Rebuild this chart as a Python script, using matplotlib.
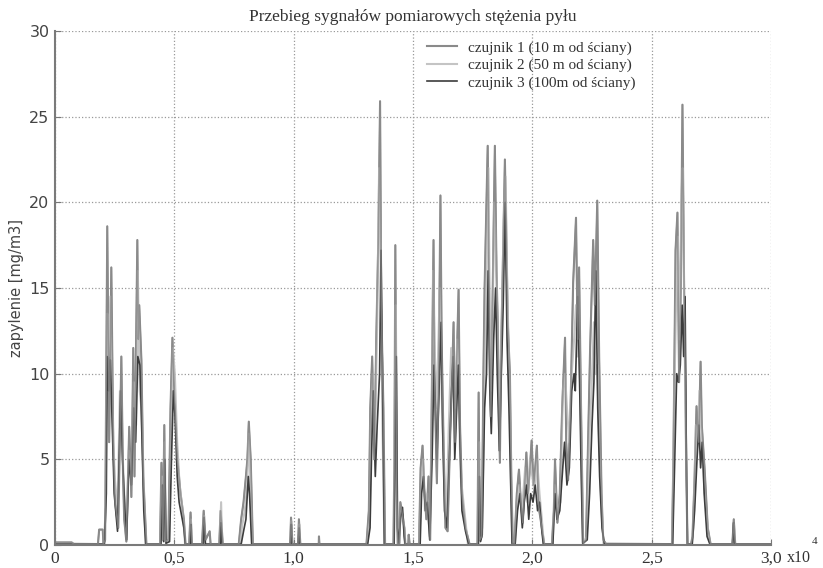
import numpy as np
import matplotlib.pyplot as plt

# x in units of 1e4 samples, y = dust concentration [mg/m3]
# czujnik 1 (10 m)
x1 = [0, 0.07, 0.08, 0.18, 0.185, 0.2, 0.203, 0.21, 0.219, 0.223, 0.227, 0.236, 0.244, 0.252, 0.265,
      0.278, 0.285, 0.29, 0.299, 0.311, 0.32, 0.328, 0.333, 0.345, 0.349, 0.353, 0.362, 0.37, 0.383,
      0.44, 0.446, 0.452, 0.458, 0.463, 0.475, 0.484, 0.492, 0.5, 0.513, 0.526, 0.54, 0.547,
      0.562, 0.568, 0.574, 0.616, 0.623, 0.631, 0.648, 0.652, 0.688, 0.694, 0.703,
      0.77, 0.78, 0.79, 0.8, 0.806, 0.812, 0.82, 0.829, 0.985, 0.989, 0.995, 1.018, 1.022, 1.028,
      1.105, 1.106, 1.108,
      1.305, 1.315, 1.321, 1.329, 1.338, 1.346, 1.355, 1.362, 1.367, 1.376, 1.383, 1.418, 1.422, 1.426,
      1.432, 1.436, 1.443, 1.447, 1.455, 1.464, 1.468, 1.48, 1.482, 1.486,
      1.525, 1.532, 1.54, 1.548, 1.556, 1.565, 1.572, 1.578, 1.586, 1.59, 1.596, 1.6, 1.607, 1.615,
      1.62, 1.628, 1.636, 1.645, 1.655, 1.662, 1.67, 1.676, 1.682, 1.691, 1.697, 1.705, 1.72, 1.737,
      1.77, 1.775, 1.78, 1.788, 1.795, 1.8, 1.813, 1.82, 1.826, 1.834, 1.843, 1.85, 1.855, 1.864,
      1.87, 1.876, 1.885, 1.89, 1.897, 1.906, 1.912, 1.918,
      1.925, 1.935, 1.944, 1.952, 1.96, 1.968, 1.975, 1.982, 1.99, 1.997, 2.005, 2.012, 2.019, 2.027,
      2.04, 2.05,
      2.082, 2.09, 2.095, 2.105, 2.115, 2.125, 2.137, 2.142, 2.15, 2.16, 2.171, 2.183, 2.19, 2.196,
      2.204, 2.213, 2.225, 2.232, 2.242, 2.255, 2.262, 2.272, 2.28, 2.29, 2.297, 2.31,
      2.585, 2.591, 2.6, 2.608, 2.615, 2.622, 2.629, 2.636, 2.645, 2.65, 2.665, 2.671, 2.68, 2.688,
      2.697, 2.705, 2.71, 2.722, 2.735, 2.747, 2.838, 2.844, 2.85, 3.0]
y1 = [0.15, 0.15, 0.05, 0.05, 0.9, 0.9, 0.05, 0.3, 18.6, 12, 6, 16.2, 6, 2.5, 1.0,
      11.0, 4, 1.5, 0.2, 6.9, 2.8, 11.5, 4, 17.8, 12, 14, 10.8, 4, 0.05,
      0.05, 4.8, 0.3, 7.0, 0.2, 0.3, 8, 12.1, 9, 5, 3, 1.5, 0.05,
      0.05, 1.9, 0.05, 0.05, 2.0, 0.3, 0.8, 0.05, 0.05, 2.0, 0.05,
      0.05, 1.5, 2.5, 4, 5, 7.2, 5, 0.05, 0.05, 1.6, 0.05, 0.05, 1.5, 0.05,
      0.05, 0.5, 0.05,
      0.05, 2, 8, 11, 5, 12, 18, 25.9, 14, 8, 0.05, 0.05, 5, 17.5,
      3, 0.05, 0.1, 2.5, 1.8, 1.0, 0.05, 0.05, 0.6, 0.05,
      0.05, 4.5, 5.8, 3, 1.5, 4, 0.3, 8, 17.8, 10, 6, 3.6, 9, 20.4,
      12, 6, 1, 0.8, 6, 9, 13.0, 6, 10, 14.9, 7, 3, 1, 0.05,
      0.05, 8.9, 0.3, 0.5, 10, 15, 23.3, 13, 7.5, 15, 23.3, 16, 13, 4.8,
      12, 16, 22.5, 18.8, 13, 10, 4, 0.1,
      0.05, 3, 4.4, 2.5, 1.3, 3.5, 5.4, 3, 4.5, 6.1, 3.5, 4.5, 5.8, 2.2,
      1, 0.05,
      0.05, 2, 5.0, 1.3, 3, 8, 12.1, 6, 3.8, 8, 15.3, 19.1, 12, 16.2,
      8.1, 0.1, 0.3, 5, 11.4, 17.8, 14, 20.1, 11.0, 3, 0.3, 0.05,
      0.05, 5, 17.2, 19.4, 9.5, 15, 25.7, 14.9, 5, 0.05, 0.05, 0.5, 4, 8.1,
      6, 10.7, 7, 4.4, 1, 0.05, 0.05, 1.5, 0.05, 0.05]

# czujnik 2 (50 m)
x2 = [0, 0.205, 0.212, 0.219, 0.224, 0.232, 0.24, 0.25, 0.262, 0.272, 0.28, 0.29, 0.3, 0.31, 0.32,
      0.33, 0.34, 0.347, 0.355, 0.362, 0.372, 0.38,
      0.442, 0.448, 0.452, 0.46, 0.465, 0.478, 0.486, 0.494, 0.502, 0.512, 0.522, 0.535, 0.545,
      0.565, 0.569, 0.573, 0.62, 0.625, 0.63, 0.69, 0.696, 0.7,
      0.775, 0.785, 0.795, 0.805, 0.812, 0.818, 0.826, 0.988, 0.99, 0.994, 1.02, 1.024, 1.027,
      1.308, 1.318, 1.323, 1.33, 1.34, 1.35, 1.358, 1.365, 1.372, 1.38, 1.42, 1.424, 1.428, 1.434,
      1.44, 1.45, 1.46, 1.466,
      1.527, 1.534, 1.542, 1.55, 1.56, 1.57, 1.578, 1.584, 1.59, 1.598, 1.605, 1.612, 1.62, 1.63,
      1.64, 1.65, 1.66, 1.668, 1.676, 1.685, 1.69, 1.7, 1.715, 1.73,
      1.773, 1.777, 1.782, 1.79, 1.8, 1.81, 1.816, 1.823, 1.83, 1.84, 1.848, 1.856, 1.863, 1.872,
      1.88, 1.888, 1.895, 1.904, 1.91, 1.916,
      1.927, 1.936, 1.946, 1.955, 1.962, 1.97, 1.98, 1.99, 2.0, 2.01, 2.02, 2.03, 2.04, 2.048,
      2.085, 2.095, 2.105, 2.118, 2.128, 2.137, 2.145, 2.155, 2.165, 2.175, 2.183, 2.19, 2.196, 2.205,
      2.212, 2.228, 2.238, 2.248, 2.258, 2.265, 2.272, 2.28, 2.29, 2.298,
      2.587, 2.594, 2.602, 2.61, 2.617, 2.624, 2.63, 2.638, 2.646, 2.65, 2.668, 2.675, 2.685, 2.693,
      2.7, 2.71, 2.72, 2.735, 2.745, 2.84, 2.845, 2.85, 3.0]
y2 = [0.1, 0.05, 2, 13.5, 11, 14.5, 8, 4, 2, 9, 6.5, 3, 1, 5.5, 4,
      9.5, 7, 16, 9, 8, 3, 0.05,
      0.05, 4, 0.3, 6, 0.1, 0.3, 7, 11.5, 10, 6, 3.5, 2, 0.05,
      0.05, 1.5, 0.05, 0.05, 1.7, 0.05, 0.05, 2.5, 0.05,
      0.05, 1.2, 2, 3.5, 6.5, 4, 0.05, 0.05, 1.4, 0.05, 0.05, 1.2, 0.05,
      0.05, 1.5, 7, 10, 6, 13, 22, 16, 7, 0.05, 0.05, 8, 14, 2,
      0.05, 2.0, 1.5, 0.05,
      0.05, 3.5, 5, 2, 3, 0.5, 6, 16, 12, 8, 11, 15, 9, 4,
      1.5, 7, 11.5, 10, 8, 12, 9, 4, 2, 0.05,
      0.05, 6, 0.3, 1, 10, 17, 22, 12, 9, 20, 17, 11, 7, 13,
      19, 21.5, 15, 9.5, 4, 0.1,
      0.05, 2.5, 3.5, 2, 3, 4.5, 2.5, 5, 4, 3, 5, 3, 1.5, 0.05,
      0.05, 3.5, 2, 2.5, 9, 10, 8, 6, 10, 12, 14, 11, 12, 6,
      0.1, 0.5, 6, 9, 13, 10, 10.5, 6, 2, 0.1,
      0.05, 8, 14, 18, 12, 20, 22, 12, 3, 0.05, 0.05, 1, 7, 6,
      9, 6, 3.5, 0.8, 0.05, 0.05, 1.2, 0.05, 0.05]

# czujnik 3 (100 m)
x3 = [0, 0.207, 0.215, 0.219, 0.225, 0.232, 0.24, 0.248, 0.262, 0.275, 0.283, 0.293, 0.3, 0.31,
      0.32, 0.33, 0.338, 0.347, 0.356, 0.363, 0.372, 0.38,
      0.444, 0.45, 0.455, 0.46, 0.465, 0.48, 0.488, 0.496, 0.503, 0.512, 0.52, 0.54, 0.546,
      0.566, 0.569, 0.572, 0.62, 0.624, 0.63, 0.692, 0.695, 0.7,
      0.78, 0.79, 0.8, 0.81, 0.815, 0.824, 0.987, 0.99, 0.993, 1.019, 1.023, 1.026,
      1.31, 1.32, 1.326, 1.333, 1.342, 1.35, 1.36, 1.366, 1.372, 1.38, 1.421, 1.425, 1.43, 1.435,
      1.44, 1.448, 1.456, 1.463, 1.467,
      1.53, 1.536, 1.544, 1.552, 1.56, 1.57, 1.58, 1.588, 1.594, 1.6, 1.61, 1.618, 1.624, 1.632,
      1.642, 1.652, 1.66, 1.668, 1.675, 1.683, 1.69, 1.697, 1.705, 1.72, 1.733,
      1.774, 1.778, 1.783, 1.79, 1.8, 1.808, 1.815, 1.822, 1.828, 1.838, 1.846, 1.853, 1.862, 1.87,
      1.878, 1.886, 1.894, 1.902, 1.91, 1.915,
      1.928, 1.938, 1.948, 1.958, 1.966, 1.976, 1.985, 1.993, 2.003, 2.012, 2.022, 2.03, 2.04, 2.046,
      2.086, 2.095, 2.103, 2.115, 2.125, 2.135, 2.145, 2.155, 2.165, 2.175, 2.18, 2.19, 2.198, 2.205,
      2.211, 2.23, 2.24, 2.25, 2.258, 2.266, 2.274, 2.282, 2.292, 2.302,
      2.588, 2.595, 2.605, 2.612, 2.62, 2.628, 2.634, 2.64, 2.646, 2.65, 2.67, 2.68, 2.69, 2.698,
      2.705, 2.712, 2.72, 2.732, 2.744, 2.839, 2.843, 2.848, 3.0]
y3 = [0.05, 0.05, 3, 11, 9, 10.8, 7, 3, 0.8, 9, 5, 2, 0.3, 5,
      3.5, 8, 6, 11, 10.5, 7, 2, 0.05,
      0.05, 3.5, 0.2, 5, 0.1, 0.2, 5, 9, 7.5, 4, 2.5, 1, 0.05,
      0.05, 1.2, 0.05, 0.05, 1.6, 0.05, 0.05, 1.3, 0.05,
      0.05, 0.8, 1.5, 4, 3, 0.05, 0.05, 1.2, 0.05, 0.05, 1, 0.05,
      0.05, 1, 5, 9, 4, 7, 10, 17.2, 10, 0.05, 0.05, 6, 11, 1,
      0.05, 1.6, 2.2, 0.5, 0.05,
      0.05, 3, 4, 2, 2.5, 0.3, 5, 10.5, 8, 5, 9.5, 13, 7, 2,
      1, 5, 8.5, 11, 5, 8, 10.5, 6, 2, 0.8, 0.05,
      0.05, 4, 0.2, 0.6, 8, 10, 16, 9, 6.5, 12, 15, 10, 5.5, 10,
      14, 20, 12, 8, 3, 0.1,
      0.05, 2, 3, 1, 2.5, 3.5, 1.5, 3, 2.5, 3.5, 2, 2.5, 0.8, 0.05,
      0.05, 3, 1.5, 2, 4, 6, 3.5, 4.5, 9, 10, 9, 14.5, 9.5, 4,
      0.1, 0.3, 3, 7, 9.5, 16, 8, 4, 1, 0.05,
      0.05, 4, 10, 9.5, 10.5, 14, 11, 14.5, 4, 0.05, 0.05, 2, 5, 7,
      4.5, 6, 3, 0.5, 0.05, 0.05, 1.3, 0.05, 0.05]

labels = ['czujnik 1 (10 m od ściany)', 'czujnik 2 (50 m od ściany)', 'czujnik 3 (100m od ściany)']
colors = ['#8a8a8a', '#c4c4c4', '#3c3c3c']
xticks = [0, 0.5, 1.0, 1.5, 2.0, 2.5, 3.0]
xticklabels = ['0', '0,5', '1,0', '1,5', '2,0', '2,5', '3,0']
yticks = [0, 5, 10, 15, 20, 25, 30]

fig = plt.figure(figsize=(8.23, 5.68), dpi=100)
ax = fig.add_axes([55/823, 23/568, 716/823, 514/568])

ax.plot(x1, y1, color=colors[0], lw=1.5, label=labels[0])
ax.plot(x2, y2, color=colors[1], lw=1.5, label=labels[1])
ax.plot(x3, y3, color=colors[2], lw=1.2, label=labels[2])
# redraw sensor 1 on top so its tall peaks stay visible
ax.plot(x1, y1, color=colors[0], lw=1.1, alpha=0.8)

ax.set_xlim(0, 3.0)
ax.set_ylim(0, 30)
ax.set_xticks(xticks)
ax.set_xticklabels(xticklabels, family='Liberation Serif', fontsize=12.5, color='#333333')
ax.set_yticks(yticks)
ax.set_yticklabels([str(v) for v in yticks], family='DejaVu Sans', fontsize=11.5, color='#444444')
ax.tick_params(direction='in', length=4, color='#777777', pad=4)
ax.grid(True, linestyle=':', color='#999999', linewidth=0.9)
for s in ['top', 'right']:
    ax.spines[s].set_visible(False)
for s in ['left', 'bottom']:
    ax.spines[s].set_color('#7a7a7a')
    ax.spines[s].set_linewidth(1.5)

ax.set_ylabel('zapylenie [mg/m3]', family='DejaVu Sans', fontsize=10.5, color='#444444', labelpad=4)
ax.set_title('Przebieg sygnałów pomiarowych stężenia pyłu', family='Liberation Serif',
             fontsize=12.5, color='#333333', pad=7)
ax.text(1.022, -0.009, 'x10', transform=ax.transAxes, va='top', ha='left',
        family='Liberation Serif', fontsize=11.5, color='#333333')
ax.text(1.057, 0.016, '4', transform=ax.transAxes, va='top', ha='left',
        family='Liberation Serif', fontsize=8, color='#333333')

leg = ax.legend(loc='upper left', bbox_to_anchor=(0.5, 1.008), frameon=False,
                prop={'family': 'Liberation Serif', 'size': 11}, handlelength=2.0,
                labelspacing=0.25, handletextpad=0.7, labelcolor='#333333')

fig.savefig('out.png', dpi=100)
